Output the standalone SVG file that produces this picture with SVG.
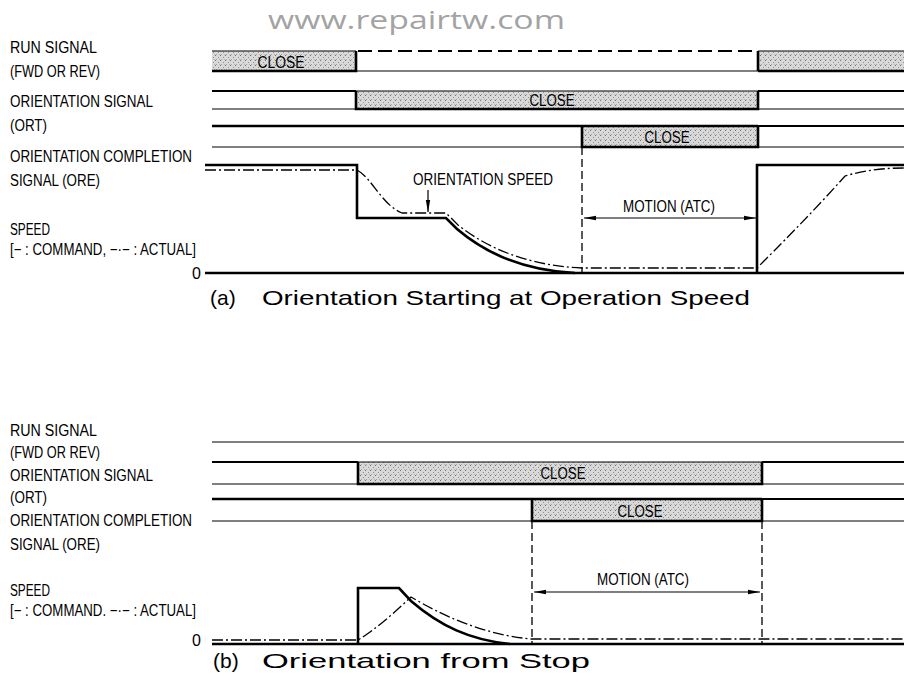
<svg xmlns="http://www.w3.org/2000/svg" width="904" height="683" viewBox="0 0 904 683">
<defs>
<pattern id="stip" width="5" height="5" patternUnits="userSpaceOnUse">
<rect width="5" height="5" fill="#d9d9d9"/>
<rect x="0" y="0" width="1" height="1" fill="#6f6f6f"/>
<rect x="3" y="2" width="1" height="1" fill="#8f8f8f"/>
<rect x="1" y="4" width="1" height="1" fill="#a5a5a5"/>
<rect x="4" y="4" width="1" height="1" fill="#b5b5b5"/>
</pattern>
<marker id="ah" viewBox="0 0 12 6" refX="12" refY="3" markerWidth="12" markerHeight="6" orient="auto-start-reverse" markerUnits="userSpaceOnUse"><path d="M0,0.8 L12,3 L0,5.2 z" fill="#000"/></marker>
</defs>
<style>
.lbl{font-family:"Liberation Sans",Arial,sans-serif;font-size:16px;fill:#000}
.cl{font-family:"Liberation Sans",Arial,sans-serif;font-size:16px;fill:#000;text-anchor:middle}
.cap{font-family:"Liberation Sans",Arial,sans-serif;font-size:21px;fill:#000}
.wm{font-family:"Open Sans","Liberation Sans",sans-serif;font-size:26px;fill:#a3a3a3}
.thk{stroke:#000;stroke-width:2.6;fill:none}
.med{stroke:#000;stroke-width:2;fill:none}
.thn{stroke:#000;stroke-width:1.2;fill:none}
.dd{stroke:#000;stroke-width:1.3;fill:none;stroke-dasharray:11 3 2 3}
.dsh{stroke:#000;stroke-width:1.3;fill:none;stroke-dasharray:8 4}
.rdash{stroke:#000;stroke-width:2;fill:none;stroke-dasharray:14 6}
.box{fill:url(#stip)}
</style>
<rect width="904" height="683" fill="#fff"/>
<text class="wm" x="268" y="29" textLength="297" lengthAdjust="spacingAndGlyphs">www.repairtw.com</text>

<g id="labels-a">
<text class="lbl" x="10" y="53" textLength="87" lengthAdjust="spacingAndGlyphs">RUN SIGNAL</text>
<text class="lbl" x="10" y="77" textLength="90" lengthAdjust="spacingAndGlyphs">(FWD OR REV)</text>
<text class="lbl" x="10" y="107" textLength="143" lengthAdjust="spacingAndGlyphs">ORIENTATION SIGNAL</text>
<text class="lbl" x="10" y="131" textLength="37" lengthAdjust="spacingAndGlyphs">(ORT)</text>
<text class="lbl" x="10" y="162" textLength="182" lengthAdjust="spacingAndGlyphs">ORIENTATION COMPLETION</text>
<text class="lbl" x="10" y="186" textLength="90" lengthAdjust="spacingAndGlyphs">SIGNAL (ORE)</text>
<text class="lbl" x="10" y="235" textLength="40" lengthAdjust="spacingAndGlyphs">SPEED</text>
<text class="lbl" x="10" y="255" textLength="186" lengthAdjust="spacingAndGlyphs">[− : COMMAND, −·− : ACTUAL]</text>
<text class="lbl" x="192" y="279">0</text>
</g>

<g id="run-signal-a">
<rect class="box" x="212" y="51" width="144" height="20"/>
<rect class="box" x="758" y="51" width="146" height="20"/>
<path class="thn" d="M212,51 H356 M758,51 H904 M356,71 H758"/>
<path class="thk" d="M212,71 H356 V51 M758,71 V51 M758,71 H904"/>
<path class="rdash" d="M358,51 H758"/>
<text class="cl" x="281" y="68" textLength="47" lengthAdjust="spacingAndGlyphs">CLOSE</text>
</g>

<g id="orientation-signal-a">
<rect class="box" x="356" y="91" width="402" height="18"/>
<path class="med" d="M212,91 H356 M758,91 H904"/>
<path class="thn" d="M212,109 H356 M356,91 H758 M758,109 H904"/>
<path class="thk" d="M356,91 V109 H758 V91"/>
<text class="cl" x="552" y="106" textLength="45" lengthAdjust="spacingAndGlyphs">CLOSE</text>
</g>

<g id="completion-signal-a">
<rect class="box" x="582" y="126" width="176" height="21"/>
<path class="thk" d="M212,126 H758 M582,126 V147 H758 V126"/>
<path class="med" d="M758,126 H904"/>
<path class="thn" d="M212,147 H582 M758,147 H904"/>
<text class="cl" x="667" y="143" textLength="45" lengthAdjust="spacingAndGlyphs">CLOSE</text>
</g>

<g id="speed-a">
<path class="thk" d="M205,273 H904"/>
<path class="thk" d="M205,165 H357 V218 H446 L457,229 C490,257 530,271 575,273 M757,273 V165 H904"/>
<path class="dd" d="M205,170 H357 C372,178 382,205 402,213 H446 L458,225 C492,252 535,266 582,268 H757 C775,250 815,210 845,176 C865,170 885,168 904,168"/>
<path class="dsh" d="M582,147 V273"/>
<path class="thn" d="M428,190 V212" marker-end="url(#ah)"/>
<text class="lbl" x="413" y="185" textLength="140" lengthAdjust="spacingAndGlyphs">ORIENTATION SPEED</text>
<text class="lbl" x="623" y="212" textLength="92" lengthAdjust="spacingAndGlyphs">MOTION (ATC)</text>
<path class="thn" d="M584,218 H756" marker-start="url(#ah)" marker-end="url(#ah)"/>
</g>

<g id="caption-a">
<text class="cap" x="210" y="305">(a)</text>
<text class="cap" x="262" y="305" textLength="488" lengthAdjust="spacingAndGlyphs">Orientation Starting at Operation Speed</text>
</g>

<g id="labels-b">
<text class="lbl" x="10" y="436" textLength="87" lengthAdjust="spacingAndGlyphs">RUN SIGNAL</text>
<text class="lbl" x="10" y="458" textLength="90" lengthAdjust="spacingAndGlyphs">(FWD OR REV)</text>
<text class="lbl" x="10" y="481" textLength="143" lengthAdjust="spacingAndGlyphs">ORIENTATION SIGNAL</text>
<text class="lbl" x="10" y="503" textLength="37" lengthAdjust="spacingAndGlyphs">(ORT)</text>
<text class="lbl" x="10" y="526" textLength="182" lengthAdjust="spacingAndGlyphs">ORIENTATION COMPLETION</text>
<text class="lbl" x="10" y="550" textLength="90" lengthAdjust="spacingAndGlyphs">SIGNAL (ORE)</text>
<text class="lbl" x="10" y="596" textLength="40" lengthAdjust="spacingAndGlyphs">SPEED</text>
<text class="lbl" x="10" y="616" textLength="186" lengthAdjust="spacingAndGlyphs">[− : COMMAND. −·− : ACTUAL]</text>
<text class="lbl" x="192" y="646">0</text>
</g>

<g id="run-signal-b">
<path class="thn" d="M212,442 H904"/>
</g>

<g id="orientation-signal-b">
<rect class="box" x="358" y="462" width="404" height="22"/>
<path class="med" d="M212,462 H358 M762,462 H904"/>
<path class="thn" d="M212,484 H358 M358,462 H762 M762,484 H904"/>
<path class="thk" d="M358,462 V484 H762 V462"/>
<text class="cl" x="563" y="479" textLength="45" lengthAdjust="spacingAndGlyphs">CLOSE</text>
</g>

<g id="completion-signal-b">
<rect class="box" x="532" y="499" width="230" height="22"/>
<path class="thk" d="M212,499 H762 M532,499 V521 H762 V499"/>
<path class="med" d="M762,499 H904"/>
<path class="thn" d="M212,521 H532 M762,521 H904"/>
<text class="cl" x="640" y="517" textLength="45" lengthAdjust="spacingAndGlyphs">CLOSE</text>
</g>

<g id="speed-b">
<path class="thk" d="M212,644 H904"/>
<path class="thk" d="M358,644 V588 H399 L411,601 C440,626 470,640 510,644"/>
<path class="dd" d="M212,640 H358 C375,630 395,612 411,597 C440,614 480,634 531,639 H904"/>
<path class="dsh" d="M532,521 V644 M762,521 V644"/>
<text class="lbl" x="597" y="585" textLength="92" lengthAdjust="spacingAndGlyphs">MOTION (ATC)</text>
<path class="thn" d="M534,592 H760" marker-start="url(#ah)" marker-end="url(#ah)"/>
</g>

<g id="caption-b">
<text class="cap" x="213" y="668">(b)</text>
<text class="cap" x="262" y="668" textLength="328" lengthAdjust="spacingAndGlyphs">Orientation from Stop</text>
</g>
</svg>
